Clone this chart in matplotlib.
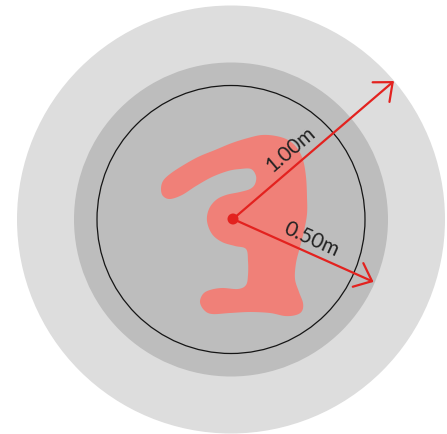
import numpy as np
import matplotlib
matplotlib.use("Agg")
import matplotlib.pyplot as plt
from matplotlib.patches import Circle, Polygon, FancyArrowPatch

# ---- data (pixel units of the diagram) ----
ring_center = (231.0, 220.5)
ring_radii = [214, 157, 134]
ring_colors = ["#dddddd", "#bdbdbd", "none"]

origin = (233.0, 220.0)
arrow_labels = ["1.00m", "0.50m"]
arrow_angles = [40.6, -24.1]      # degrees, counter-clockwise
arrow_lengths = [212, 154]
label_along = [90, 79]
label_perp = [16, 14.5]

blob_x = [161, 163, 170, 182, 198, 215, 232, 248, 262, 276, 288, 297, 303, 306,
          307, 307, 304, 300, 296, 295, 299, 303, 302, 296, 285, 270, 250, 230,
          212, 204, 200, 203, 210, 222, 238, 246, 248, 248, 246, 235, 222, 212,
          207, 209, 216, 226, 240, 250, 255, 256, 251, 240, 228, 212, 196, 182,
          170, 163]
blob_y = [190, 182, 175, 167, 158, 151, 144, 139, 136, 137, 141, 149, 161, 178,
          198, 215, 232, 248, 264, 280, 293, 304, 312, 316, 317, 314, 313, 314,
          315, 311, 303, 295, 291, 289, 290, 286, 276, 262, 250, 247, 243, 235,
          222, 210, 201, 196, 193, 190, 185, 177, 170, 170, 172, 178, 187, 196,
          200, 197]


def closed_spline(x, y, n=16):
    P = np.column_stack([x, y]).astype(float)
    N = len(P)
    t = np.linspace(0, 1, n, endpoint=False)[:, None]
    out = []
    for i in range(N):
        p0, p1, p2, p3 = P[(i - 1) % N], P[i], P[(i + 1) % N], P[(i + 2) % N]
        out.append(0.5 * (2 * p1 + (-p0 + p2) * t
                          + (2 * p0 - 5 * p1 + 4 * p2 - p3) * t ** 2
                          + (-p0 + 3 * p1 - 3 * p2 + p3) * t ** 3))
    return np.vstack(out)


fig = plt.figure(figsize=(4.47, 4.35), dpi=100)
ax = fig.add_axes([0, 0, 1, 1])
ax.set_xlim(0, 447)
ax.set_ylim(435, 0)
ax.axis("off")

for r, c in zip(ring_radii[:2], ring_colors[:2]):
    ax.add_patch(Circle(ring_center, r, facecolor=c, edgecolor="none", zorder=1))

ax.add_patch(Polygon(closed_spline(blob_x, blob_y), closed=True,
                     facecolor="#f08078", edgecolor="none", zorder=2))

ax.add_patch(Circle(ring_center, ring_radii[2], facecolor="none",
                    edgecolor="#151515", lw=0.9, zorder=3))

red = "#e3221f"
for lab, ang, L, al, pp in zip(arrow_labels, arrow_angles, arrow_lengths,
                               label_along, label_perp):
    a = np.deg2rad(ang)
    d = np.array([np.cos(a), -np.sin(a)])
    n = np.array([-np.sin(a), -np.cos(a)])
    end = np.array(origin) + L * d
    ax.add_patch(FancyArrowPatch(origin, tuple(end),
                                 arrowstyle="->,head_length=11,head_width=9.3",
                                 mutation_scale=1, lw=1.6, color=red,
                                 shrinkA=0, shrinkB=0, zorder=4))
    tp = np.array(origin) + al * d + pp * n
    ax.text(tp[0], tp[1], lab, rotation=ang, rotation_mode="anchor",
            ha="center", va="center", fontsize=15, color="#222222",
            family="Lato", zorder=5)

ax.add_patch(Circle(origin, 5.5, facecolor=red, edgecolor="none", zorder=6))

fig.savefig("out.png", dpi=100)
